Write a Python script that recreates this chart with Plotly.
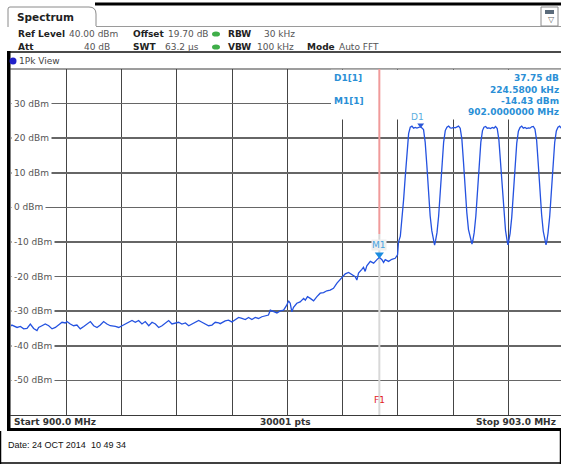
import plotly.graph_objects as go

# ---------------- data ----------------
floor_pts = [
    (900.000, -34.3), (900.005, -34.0), (900.033, -34.7), (900.051, -34.4), (900.069, -35.1),
    (900.087, -35.0), (900.105, -33.7), (900.123, -35.0), (900.141, -35.6), (900.150, -34.7),
    (900.168, -34.2), (900.186, -33.7), (900.205, -34.2), (900.223, -35.1), (900.241, -34.7),
    (900.259, -34.0), (900.277, -33.2), (900.295, -33.4), (900.304, -33.0), (900.322, -33.7),
    (900.340, -34.2), (900.358, -34.0), (900.376, -35.1), (900.395, -34.4), (900.413, -33.7),
    (900.431, -33.0), (900.449, -34.2), (900.467, -34.7), (900.485, -34.0), (900.503, -33.0),
    (900.521, -33.7), (900.539, -34.2), (900.567, -34.4), (900.585, -34.7), (900.603, -34.2),
    (900.621, -33.7), (900.639, -33.0), (900.657, -32.7), (900.675, -33.2), (900.693, -32.7),
    (900.711, -33.7), (900.729, -33.0), (900.748, -34.2), (900.766, -33.2), (900.784, -33.7),
    (900.802, -34.7), (900.820, -34.2), (900.838, -33.4), (900.856, -32.7), (900.874, -33.7),
    (900.892, -33.4), (900.910, -33.2), (900.928, -33.7), (900.947, -33.4), (900.965, -34.2),
    (900.983, -33.7), (901.001, -33.4), (901.019, -32.7), (901.037, -33.2), (901.055, -33.7),
    (901.073, -34.2), (901.091, -34.0), (901.109, -33.2), (901.128, -33.4),
]

ramp_pts = [
    (901.136, -33.6), (901.163, -32.8), (901.181, -32.6), (901.199, -33.1), (901.217, -32.4),
    (901.236, -31.8), (901.254, -32.1), (901.272, -32.4), (901.290, -31.8), (901.308, -32.4),
    (901.326, -31.8), (901.344, -32.1), (901.362, -31.6), (901.380, -31.4), (901.398, -31.1),
    (901.408, -29.7), (901.426, -30.2), (901.444, -30.5), (901.462, -29.9), (901.480, -29.7),
    (901.498, -28.2), (901.507, -27.0), (901.516, -27.7), (901.525, -30.2), (901.534, -28.9),
    (901.552, -27.7), (901.570, -27.3), (901.589, -26.3), (901.598, -26.8), (901.610, -25.8),
    (901.625, -26.3), (901.643, -27.0), (901.661, -25.8), (901.679, -24.8), (901.697, -24.6),
    (901.715, -24.1), (901.733, -23.9), (901.751, -23.4), (901.770, -21.9), (901.788, -20.8),
    (901.802, -20.0), (901.815, -19.2), (901.833, -18.8), (901.851, -19.5), (901.869, -20.0),
    (901.878, -21.0), (901.887, -19.0), (901.905, -17.9), (901.914, -17.3), (901.923, -18.5),
    (901.932, -16.9), (901.951, -15.6), (901.969, -16.1), (901.987, -15.1), (902.000, -14.43),
    (902.014, -15.1), (902.023, -15.9), (902.032, -15.1), (902.050, -15.6), (902.068, -15.0),
    (902.086, -14.7), (902.099, -13.7),
]

comb_pts = [
    (902.104, -10.0), (902.114, -8.3), (902.123, -3.4), (902.132, 2.4), (902.141, 9.1),
    (902.150, 15.9), (902.159, 21.3), (902.168, 23.2), (902.177, 23.5), (902.186, 22.9),
    (902.195, 23.1), (902.204, 22.9), (902.213, 23.0), (902.2246, 23.32), (902.240, 22.5),
    (902.249, 18.8), (902.258, 12.1), (902.267, 4.3), (902.276, -2.5), (902.285, -6.8),
    (902.294, -9.4), (902.300, -10.9), (902.305, -9.7),
    (902.313, -7.3), (902.322, -2.5), (902.331, 4.3), (902.340, 12.1), (902.349, 18.8),
    (902.358, 22.2), (902.367, 23.2), (902.376, 23.5), (902.385, 23.0), (902.394, 22.9),
    (902.403, 23.1), (902.412, 23.0), (902.421, 23.2), (902.430, 23.5), (902.439, 22.9),
    (902.448, 19.8), (902.457, 13.0), (902.466, 5.3), (902.475, -1.5), (902.484, -6.4),
    (902.494, -8.8), (902.503, -10.6), (902.508, -9.5),
    (902.515, -7.3), (902.524, -2.5), (902.533, 4.3), (902.542, 12.1), (902.551, 18.8),
    (902.560, 22.2), (902.568, 23.2), (902.577, 23.4), (902.586, 22.9), (902.595, 23.0),
    (902.604, 22.8), (902.613, 23.1), (902.622, 22.9), (902.631, 23.4), (902.640, 22.8),
    (902.649, 19.6), (902.658, 12.8), (902.667, 5.0), (902.676, -1.8), (902.685, -6.6),
    (902.692, -9.0), (902.698, -10.8), (902.703, -9.6),
    (902.710, -7.5), (902.719, -2.8), (902.728, 4.0), (902.737, 11.8), (902.746, 18.5),
    (902.755, 22.0), (902.764, 23.1), (902.773, 23.5), (902.782, 22.9), (902.791, 23.1),
    (902.800, 22.8), (902.809, 23.0), (902.818, 22.9), (902.827, 23.3), (902.836, 23.4),
    (902.845, 22.6), (902.854, 19.4), (902.863, 12.5), (902.872, 4.8), (902.881, -2.0),
    (902.890, -6.9), (902.898, -9.3), (902.905, -10.8), (902.910, -9.6),
    (902.916, -7.4), (902.925, -2.6), (902.934, 4.2), (902.943, 12.0), (902.952, 18.7),
    (902.961, 22.1), (902.970, 23.2), (902.979, 23.5), (902.988, 22.9), (902.997, 23.0),
    (903.000, 23.1),
]

m1_freq, m1_level = 902.0, -14.43
d1_freq, d1_level = 902.2246, 23.32
f1_freq = 902.0
display_line_end = -7.7

y_tick_levels = [30, 20, 10, 0, -10, -20, -30, -40, -50]
y_tick_labels = ["30 dBm", "20 dBm", "10 dBm", "0 dBm", "-10 dBm", "-20 dBm", "-30 dBm", "-40 dBm", "-50 dBm"]

marker_names = ["D1[1]", "M1[1]"]
marker_values = ["37.75 dB", "224.5800 kHz", "-14.43 dBm", "902.0000000 MHz"]

start_label = "Start 900.0 MHz"
points_label = "30001 pts"
stop_label = "Stop 903.0 MHz"
date_label = "Date: 24 OCT 2014  10 49 34"

# ---------------- geometry helpers (pixels -> paper) ----------------
W, H = 561, 464
L, T, PW, PH = 11, 69, 550, 346
XSPAN = 550 / 184.17


def xp(x):
    return (x - L) / PW


def yp(y):
    return (T + PH - y) / PH


freq = [p[0] for p in floor_pts + ramp_pts + comb_pts]
level = [p[1] for p in floor_pts + ramp_pts + comb_pts]

fig = go.Figure()
fig.add_trace(go.Scatter(x=freq, y=level, mode="lines",
                         line=dict(color="#2452e0", width=1.3),
                         hoverinfo="skip", showlegend=False))
fig.add_trace(go.Scatter(x=[m1_freq], y=[m1_level + 0.8], mode="markers",
                         marker=dict(symbol="triangle-down", size=8, color="#1a8ce0"),
                         hoverinfo="skip", showlegend=False))
fig.add_trace(go.Scatter(x=[d1_freq], y=[d1_level + 0.5], mode="markers",
                         marker=dict(symbol="triangle-down", size=6, color="#2a56d6"),
                         hoverinfo="skip", showlegend=False))

shapes = []


def rect(x0, y0, x1, y1, fill, line_color=None, lw=0, layer="above"):
    shapes.append(dict(type="rect", xref="paper", yref="paper",
                       x0=xp(x0), x1=xp(x1), y0=yp(y0), y1=yp(y1),
                       fillcolor=fill, line=dict(width=lw, color=line_color or fill),
                       layer=layer))


def hline(x0, x1, y, color, w=1, layer="above"):
    shapes.append(dict(type="line", xref="paper", yref="paper",
                       x0=xp(x0), x1=xp(x1), y0=yp(y), y1=yp(y),
                       line=dict(color=color, width=w), layer=layer))


def vline(x, y0, y1, color, w=1, layer="above"):
    shapes.append(dict(type="line", xref="paper", yref="paper",
                       x0=xp(x), x1=xp(x), y0=yp(y0), y1=yp(y1),
                       line=dict(color=color, width=w), layer=layer))


def dot(cx, cy, r, color):
    shapes.append(dict(type="circle", xref="paper", yref="paper",
                       x0=xp(cx - r), x1=xp(cx + r), y0=yp(cy + r * 0.65), y1=yp(cy - r * 0.65),
                       fillcolor=color, line=dict(width=0)))


# top black bar and tab
rect(95, 2.5, 561, 5.5, "#000000")
tab_path = "M {} {} L {} {} Q {} {} {} {} L {} {} Q {} {} {} {} L {} {}".format(
    xp(8), yp(27), xp(8), yp(9), xp(8), yp(7), xp(10), yp(7),
    xp(89), yp(7), xp(96), yp(7), xp(96), yp(14), xp(96), yp(26))
shapes.append(dict(type="path", xref="paper", yref="paper", path=tab_path,
                   line=dict(color="#8a8a8a", width=1)))
hline(96, 561, 26.5, "#9a9a9a", 1)
# icon top right
rect(541, 7, 558, 26, "#ffffff", "#8a8a8a", 1)
rect(545, 10, 554, 14, "#5a6a7a")
# green dots
dot(216, 34, 4, "#3fae49")
dot(216, 47, 4, "#3fae49")
# panel frame
hline(8, 561, 52, "#4a4a4a", 2)
rect(7, 51, 10.5, 430, "#000000")
hline(10, 561, 69, "#3a3a3a", 1)
# 1Pk View dot
shapes.append(dict(type="circle", xref="paper", yref="paper",
                   x0=xp(9.5), x1=xp(16.5), y0=yp(64.5), y1=yp(57.5),
                   fillcolor="#2020c8", line=dict(width=0)))
# marker info area masks the grid
rect(331, 69.8, 561, 119.5, "#ffffff")
# display line (red) and frequency line F1 (grey)
shapes.append(dict(type="line", xref="x", yref="y", x0=f1_freq, x1=f1_freq,
                   y0=40, y1=display_line_end, line=dict(color="#f09a9a", width=2), layer="above"))
shapes.append(dict(type="line", xref="x", yref="y", x0=f1_freq, x1=f1_freq,
                   y0=display_line_end, y1=-60, line=dict(color="#d8d8d8", width=2), layer="between"))
# status bar
hline(10, 561, 415.5, "#3a3a3a", 1)
rect(7, 428, 561, 431, "#000000")
# outer frame around date area
vline(0.5, 431, 464, "#000000", 1.5)
hline(0, 561, 463, "#000000", 1.5)
vline(560.5, 431, 464, "#000000", 1.5)

annotations = []


def txt(x, y, s, size=9, color="#222222", bold=False, xanchor="left",
        family="DejaVu Sans", bg=None):
    annotations.append(dict(
        x=xp(x), y=yp(y), xref="paper", yref="paper",
        text=("<b>%s</b>" % s) if bold else s, showarrow=False,
        xanchor=xanchor, yanchor="middle", borderpad=1 if bg else 0,
        bgcolor=bg, font=dict(family=family, size=size, color=color)))


txt(16, 17, "Spectrum", 10.5, "#222222", True)
txt(547, 20, "▽", 8, "#666666")
# settings rows
txt(17, 34, "Ref Level", 9, "#222222", True)
txt(68, 34, "40.00 dBm", 9, "#555555")
txt(132, 34, "Offset", 9, "#222222", True)
txt(167, 34, "19.70 dB", 9, "#555555")
txt(227, 34, "RBW", 9, "#222222", True)
txt(263, 34, "30 kHz", 9, "#555555")
txt(17, 47, "Att", 9, "#222222", True)
txt(111, 47, "40 dB", 9, "#555555", xanchor="right")
txt(132, 47, "SWT", 9, "#222222", True)
txt(200, 47, "63.2 µs", 9, "#555555", xanchor="right")
txt(227, 47, "VBW", 9, "#222222", True)
txt(256, 47, "100 kHz", 9, "#555555")
txt(306, 47, "Mode", 9, "#222222", True)
txt(338, 47, "Auto FFT", 9, "#555555")
txt(18, 61, "1Pk View", 9, "#444444")

# y tick labels (positioned through the y axis)
for lv, lab in zip(y_tick_levels, y_tick_labels):
    annotations.append(dict(x=xp(11), y=lv, xref="paper", yref="y", text=lab,
                            showarrow=False, xanchor="left", yanchor="middle",
                            bgcolor="#ffffff", borderpad=2,
                            font=dict(family="DejaVu Sans", size=9, color="#555555")))

# marker info
mcol = "#2a8fd6"
txt(333, 78, marker_names[0], 9, mcol, True)
txt(333, 100.5, marker_names[1], 9, mcol, True)
for yy, s in zip([78, 89.5, 100.5, 112], marker_values):
    txt(560, yy, s, 9, mcol, True, xanchor="right")

# marker labels on trace
annotations.append(dict(x=m1_freq, y=m1_level, xref="x", yref="y", text="M1", showarrow=False,
                        yshift=12, xanchor="center", yanchor="middle", bgcolor="#eeeeee",
                        borderpad=0, font=dict(family="DejaVu Sans", size=9, color="#45a3e0")))
annotations.append(dict(x=d1_freq, y=d1_level, xref="x", yref="y", text="D1", showarrow=False,
                        yshift=10, xshift=-3, xanchor="center", yanchor="middle",
                        font=dict(family="DejaVu Sans", size=9, color="#5aaee0")))
annotations.append(dict(x=f1_freq, y=-55.6, xref="x", yref="y", text="F1", showarrow=False,
                        xanchor="center", yanchor="middle",
                        font=dict(family="DejaVu Sans", size=9, color="#e02020")))

# status bar texts
txt(13, 422, start_label, 9, "#333333", True)
txt(285, 422, points_label, 9, "#333333", True, xanchor="center")
txt(557, 422, stop_label, 9, "#333333", True, xanchor="right")
txt(7, 445, date_label, 9, "#111111", family="Liberation Sans")

fig.update_layout(
    width=W, height=H,
    margin=dict(l=L, r=W - L - PW, t=T, b=H - T - PH, pad=0, autoexpand=False),
    paper_bgcolor="#ffffff", plot_bgcolor="#ffffff",
    showlegend=False,
    xaxis=dict(range=[900, 900 + XSPAN], tick0=900, dtick=0.3, showgrid=True,
               gridcolor="#454545", gridwidth=1, zeroline=False, showticklabels=False,
               ticks="", showline=False, fixedrange=True),
    yaxis=dict(range=[-60, 40], tick0=0, dtick=10, showgrid=True,
               gridcolor="#666666", gridwidth=1.5, zeroline=False, showticklabels=False,
               ticks="", showline=False, fixedrange=True),
    shapes=shapes, annotations=annotations,
)

fig.write_html("out.html", config={"displayModeBar": False, "staticPlot": True},
               post_script="document.body.style.margin='0';")
